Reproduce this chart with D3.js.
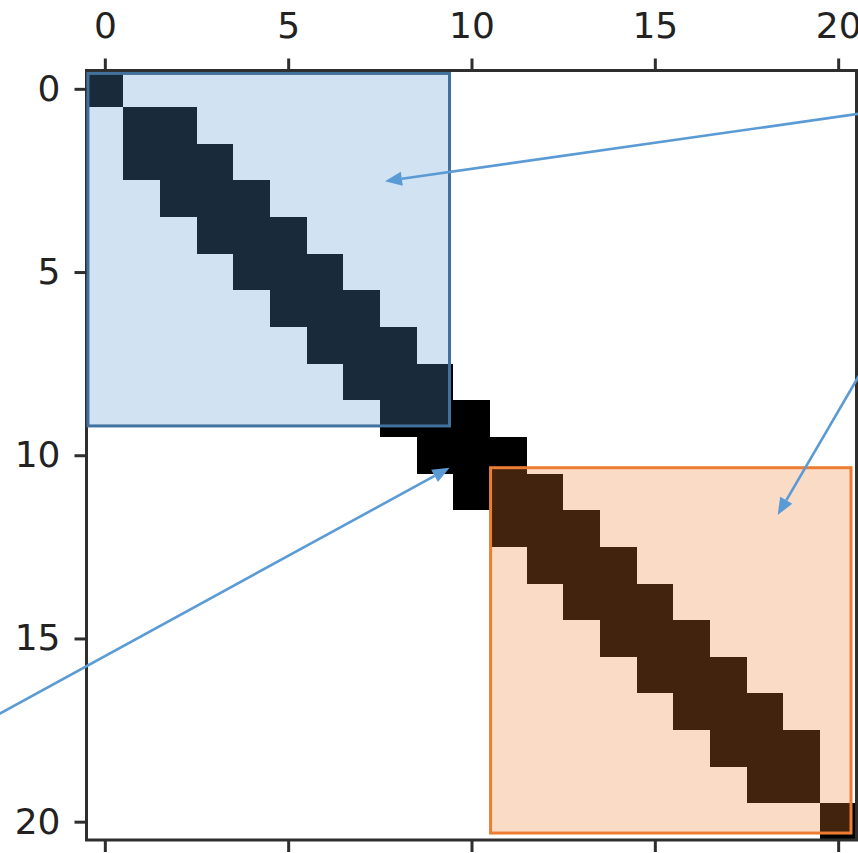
<!DOCTYPE html>
<html>
<head>
<meta charset="utf-8">
<script src="https://cdn.jsdelivr.net/npm/d3@7"></script>
<style>
  html, body { margin: 0; padding: 0; background: #fff; }
  svg { display: block; }
</style>
</head>
<body>
<svg width="858" height="853"></svg>
<script>
// matrix size and tick values
const size = 21;
const tickValues = [0, 5, 10, 15, 20];

// columns that are non-zero in each row
const rowCols = [
    [0],
    [1, 2],
    [1, 2, 3],
    [2, 3, 4],
    [3, 4, 5],
    [4, 5, 6],
    [5, 6, 7],
    [6, 7, 8],
    [7, 8, 9],
    [8, 9, 10],
    [9, 10, 11],
    [10, 11, 12],
    [11, 12, 13],
    [12, 13, 14],
    [13, 14, 15],
    [14, 15, 16],
    [15, 16, 17],
    [16, 17, 18],
    [17, 18, 19],
    [18, 19],
    [20]
];

// highlighted blocks [x0, y0, x1, y1] in matrix units
const blockExtents = [
    [-0.46, -0.42, 9.40, 9.20],
    [10.52, 10.34, 20.35, 20.31]
];
const blockFill = ["#5b9bd5", "#ed7d31"];
const blockStroke = ["#41719c", "#ed7d31"];

// arrows [from, to] in matrix units
const arrowFrom = [[20.86, 0.64], [20.80, 7.43], [-3.12, 17.19]];
const arrowTo = [[7.64, 2.52], [18.35, 11.63], [9.40, 10.34]];

const svg = d3.select("svg"),
    width = +svg.attr("width"),
    height = +svg.attr("height");

const x = d3.scaleLinear().domain([-0.5, size - 0.5]).range([86.5, 856.5]);
const y = d3.scaleLinear().domain([-0.5, size - 0.5]).range([70.5, 840]);

const frameColor = "#2e2e2e";
const textColor = "#222";

// cells
const cells = [];
rowCols.forEach(function (cols, r) {
    cols.forEach(function (c) { cells.push({row: r, col: c}); });
});

svg.append("g")
    .attr("class", "cells")
    .selectAll("rect")
    .data(cells)
    .enter().append("rect")
    .attr("x", function (d) { return x(d.col - 0.5); })
    .attr("y", function (d) { return y(d.row - 0.5); })
    .attr("width", function (d) { return x(d.col + 0.5) - x(d.col - 0.5); })
    .attr("height", function (d) { return y(d.row + 0.5) - y(d.row - 0.5); })
    .attr("fill", "#000")
    .attr("shape-rendering", "crispEdges");

// frame
svg.append("rect")
    .attr("x", x(-0.5))
    .attr("y", y(-0.5))
    .attr("width", x(size - 0.5) - x(-0.5))
    .attr("height", y(size - 0.5) - y(-0.5))
    .attr("fill", "none")
    .attr("stroke", frameColor)
    .attr("stroke-width", 3);

// blocks
svg.append("g")
    .attr("class", "blocks")
    .selectAll("rect")
    .data(blockExtents)
    .enter().append("rect")
    .attr("x", function (d) { return x(d[0]); })
    .attr("y", function (d) { return y(d[1]); })
    .attr("width", function (d) { return x(d[2]) - x(d[0]); })
    .attr("height", function (d) { return y(d[3]) - y(d[1]); })
    .attr("fill", function (d, i) { return blockFill[i]; })
    .attr("fill-opacity", 0.28)
    .attr("stroke", function (d, i) { return blockStroke[i]; })
    .attr("stroke-width", 3);

// axes: labels on top and left, ticks on all visible sides
const axisTop = d3.axisTop(x).tickValues(tickValues).tickSize(12).tickPadding(21);
const axisBottom = d3.axisBottom(x).tickValues(tickValues).tickSize(12).tickFormat("");
const axisLeft = d3.axisLeft(y).tickValues(tickValues).tickSize(12).tickPadding(14);

function styleAxis(g) {
    g.select(".domain").remove();
    g.selectAll(".tick line").attr("stroke", frameColor).attr("stroke-width", 3);
    g.selectAll(".tick text")
        .attr("fill", textColor)
        .style("font-family", "DejaVu Sans")
        .style("font-size", "36px");
}

svg.append("g").attr("transform", "translate(0," + y(-0.5) + ")").call(axisTop).call(styleAxis);
svg.append("g").attr("transform", "translate(0," + y(size - 0.5) + ")").call(axisBottom).call(styleAxis);
svg.append("g").attr("transform", "translate(" + x(-0.5) + ",0)").call(axisLeft).call(styleAxis);

// arrows
const arrowColor = "#5b9bd5";
const headLen = 17, headHalf = 7;
const arrows = arrowFrom.map(function (f, i) { return {from: f, to: arrowTo[i]}; });

const arrowG = svg.append("g").attr("class", "arrows")
    .selectAll("g")
    .data(arrows)
    .enter().append("g");

arrowG.append("line")
    .attr("x1", function (d) { return x(d.from[0]); })
    .attr("y1", function (d) { return y(d.from[1]); })
    .attr("x2", function (d) { return baseOf(d)[0]; })
    .attr("y2", function (d) { return baseOf(d)[1]; })
    .attr("stroke", arrowColor)
    .attr("stroke-width", 2.6);

arrowG.append("path")
    .attr("d", function (d) {
        const tx = x(d.to[0]), ty = y(d.to[1]);
        const u = unit(d), b = baseOf(d);
        return "M" + tx + "," + ty +
            "L" + (b[0] - u[1] * headHalf) + "," + (b[1] + u[0] * headHalf) +
            "L" + (b[0] + u[1] * headHalf) + "," + (b[1] - u[0] * headHalf) + "Z";
    })
    .attr("fill", arrowColor);

function unit(d) {
    const dx = x(d.to[0]) - x(d.from[0]), dy = y(d.to[1]) - y(d.from[1]);
    const len = Math.sqrt(dx * dx + dy * dy);
    return [dx / len, dy / len];
}

function baseOf(d) {
    const u = unit(d);
    return [x(d.to[0]) - u[0] * headLen, y(d.to[1]) - u[1] * headLen];
}
</script>
</body>
</html>
